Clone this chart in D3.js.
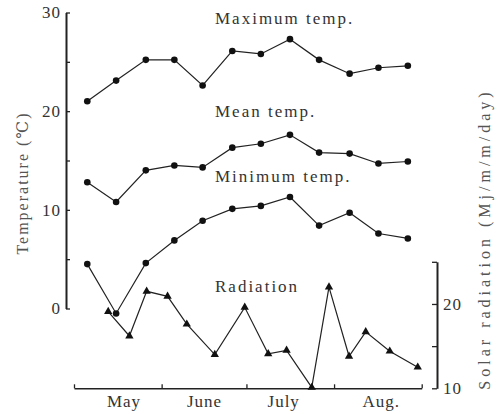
<!DOCTYPE html>
<html>
<head>
<meta charset="utf-8">
<script src="https://cdn.jsdelivr.net/npm/d3@7"></script>
<style>
body{margin:0;background:#fff;}
</style>
</head>
<body>
<div id="chart"></div>
<script>
// days counted from 1 May
var tempDays = [4.7, 14.9, 25.4, 35.5, 45.5, 56.0, 66.1, 76.4, 86.7, 97.5, 107.7, 118.1];
var maxTemp  = [21.0, 23.1, 25.2, 25.2, 22.6, 26.1, 25.8, 27.3, 25.2, 23.8, 24.4, 24.6];
var meanTemp = [12.8, 10.8, 14.0, 14.5, 14.3, 16.3, 16.7, 17.6, 15.8, 15.7, 14.7, 14.9];
var minTemp  = [4.5, -0.5, 4.6, 6.9, 8.9, 10.1, 10.4, 11.3, 8.4, 9.7, 7.6, 7.1];

var radDays  = [12.1, 19.6, 25.7, 33.1, 39.9, 49.8, 60.4, 68.7, 75.2, 84.1, 90.2, 97.3, 103.2, 111.7, 121.6];
var radiation = [19.1, 16.2, 21.5, 20.9, 17.6, 14.0, 19.6, 14.1, 14.5, 10.1, 22.0, 13.8, 16.7, 14.4, 12.5];

var monthEnds = [0, 31, 61, 92, 123];
var monthNames = ["May", "June", "July", "Aug."];
var monthLabelDays = [17.5, 46, 74, 108.5];
var tempTicks = [0, 5, 10, 15, 20, 25, 30];
var radTicks = [10, 15, 20, 25];

var width = 502, height = 414;
var ink = "#222";
var serif = "'Liberation Serif', 'DejaVu Serif', serif";

var svg = d3.select("#chart")
    .append("svg")
    .attr("width", width)
    .attr("height", height)
    .attr("font-family", serif);

var x = d3.scaleLinear().domain([0, 123]).range([74, 421.7]);
var y = d3.scaleLinear().domain([0, 30]).range([308.5, 12.5]);
var yRad = d3.scaleLinear().domain([10, 25]).range([388.3, 261.8]);

// left axis
var leftAxis = svg.append("g")
    .attr("transform", "translate(66,0)")
    .call(d3.axisLeft(y).tickValues(tempTicks).tickSize(-4).tickSizeOuter(0).tickPadding(5)
        .tickFormat(d => d % 10 === 0 ? d : ""));
leftAxis.select(".domain").attr("stroke", ink).attr("stroke-width", 2);

// right axis
var rightAxis = svg.append("g")
    .attr("transform", "translate(437,0)")
    .call(d3.axisRight(yRad).tickValues(radTicks).tickSize(-5).tickSizeOuter(0).tickPadding(6)
        .tickFormat(d => d % 10 === 0 ? d : ""));
rightAxis.select(".domain").attr("stroke", ink).attr("stroke-width", 2);

// bottom axis
var bottomAxis = svg.append("g")
    .attr("transform", "translate(0,388.3)")
    .call(d3.axisBottom(x).tickValues(monthEnds).tickSize(-4).tickSizeOuter(0).tickFormat(""));
bottomAxis.select(".domain").attr("stroke", ink).attr("stroke-width", 1.6);

svg.append("g")
    .attr("transform", "translate(0,388.3)")
    .call(d3.axisBottom(x).tickValues(monthLabelDays).tickSize(0).tickPadding(7)
        .tickFormat((d, i) => monthNames[i]))
    .call(g => g.select(".domain").remove());

svg.selectAll(".tick line").attr("stroke", ink).attr("stroke-width", 1.3);
svg.selectAll(".tick text")
    .attr("font-family", serif)
    .attr("font-size", 17)
    .attr("fill", "#333")
    .attr("letter-spacing", 1);

// temperature series
var tempLine = d3.line()
    .x((d, i) => x(tempDays[i]))
    .y(d => y(d));

[maxTemp, meanTemp, minTemp].forEach(function(series){
    svg.append("path")
        .datum(series)
        .attr("fill", "none")
        .attr("stroke", ink)
        .attr("stroke-width", 1.2)
        .attr("d", tempLine);
    svg.append("g")
        .selectAll("circle")
        .data(series)
        .enter()
        .append("circle")
        .attr("cx", (d, i) => x(tempDays[i]))
        .attr("cy", d => y(d))
        .attr("r", 3.3)
        .attr("fill", "#111");
});

// radiation
var radLine = d3.line()
    .x((d, i) => x(radDays[i]))
    .y(d => yRad(d));
svg.append("path")
    .datum(radiation)
    .attr("fill", "none")
    .attr("stroke", ink)
    .attr("stroke-width", 1.2)
    .attr("d", radLine);
svg.append("g")
    .selectAll("path")
    .data(radiation)
    .enter()
    .append("path")
    .attr("d", d3.symbol().type(d3.symbolTriangle).size(30))
    .attr("transform", (d, i) => "translate(" + x(radDays[i]) + "," + yRad(d) + ")")
    .attr("fill", "#111");

// series labels
var labels = [
    {text: "Maximum temp.", y: 24},
    {text: "Mean temp.", y: 117},
    {text: "Minimum temp.", y: 182},
    {text: "Radiation", y: 292}
];
svg.append("g")
    .selectAll("text")
    .data(labels)
    .enter()
    .append("text")
    .attr("x", 215)
    .attr("y", d => d.y)
    .attr("font-size", 17)
    .attr("letter-spacing", 2)
    .attr("fill", "#333")
    .text(d => d.text);

// axis titles
svg.append("text")
    .attr("transform", "translate(28,183)rotate(-90)")
    .attr("text-anchor", "middle")
    .attr("font-size", 16)
    .attr("letter-spacing", 2)
    .attr("fill", "#555")
    .text("Temperature (℃)");

svg.append("text")
    .attr("transform", "translate(490,239)rotate(-90)")
    .attr("text-anchor", "middle")
    .attr("font-size", 16)
    .attr("letter-spacing", 4)
    .attr("fill", "#555")
    .text("Solar radiation (Mj/m/m/day)");
</script>
</body>
</html>
